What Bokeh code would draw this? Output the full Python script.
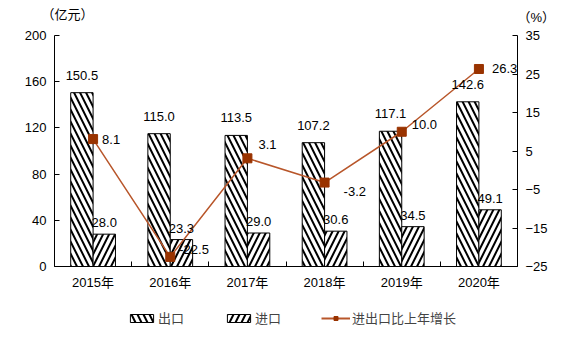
from bokeh.plotting import figure
from bokeh.layouts import column
from bokeh.models import (Range1d, LinearAxis, FixedTicker, Legend, LegendItem,
                          ColumnDataSource, Label, Plot)
from bokeh.core.properties import value
from bokeh.embed import file_html
from bokeh.resources import INLINE

years = ["2015年", "2016年", "2017年", "2018年", "2019年", "2020年"]
exports = [150.5, 115.0, 113.5, 107.2, 117.1, 142.6]
imports = [28.0, 23.3, 29.0, 30.6, 34.5, 49.1]
growth = [8.1, -22.5, 3.1, -3.2, 10.0, 26.3]
left_unit = "（亿元）"
right_unit = "（%）"

# label placement (screen px), not data
growth_dx = [9, 9, 11, 19, 10, 13]
growth_dy = [0, -7, -14, 9, -7, 0]

FONT = "Liberation Sans, Noto Sans CJK SC"
FS = "13px"
LINE_C = "#B8562A"
MARK_C = "#993300"
BAR_STYLE = dict(fill_color="white", line_color="black", line_width=1,
                 hatch_color="black", hatch_scale=12, hatch_weight=2)

xc = [i + 0.5 for i in range(len(years))]
bw = 0.29
x_exp = [x - bw / 2 for x in xc]
x_imp = [x + bw / 2 for x in xc]

src_e = ColumnDataSource(dict(x=x_exp, top=exports, lab=[f"{v:.1f}" for v in exports]))
src_i = ColumnDataSource(dict(x=x_imp, top=imports, lab=[f"{v:.1f}" for v in imports]))
src_g = ColumnDataSource(dict(x=xc, y=growth, lab=[f"{v:.1f}" for v in growth],
                              dx=growth_dx, dy=growth_dy))


def strip(h, xr=(0, 1), yr=(0, 1)):
    f = figure(width=572, height=h, output_backend="svg", toolbar_location=None,
               x_range=Range1d(*xr), y_range=Range1d(*yr), min_border=0,
               x_axis_location=None, y_axis_location=None)
    f.outline_line_color = None
    f.grid.visible = False
    return f


# ---- top strip with unit labels: its frame spans the whole strip ----
top = strip(24)
top.frame_width = 572
top.frame_height = 24
if "frame_align" in Plot.properties():
    top.frame_align = False
top.add_layout(Label(x=41, y=10, x_units="screen", y_units="screen",
                     text=left_unit, text_font=FONT, text_font_size=FS,
                     text_baseline="middle", text_color="black"))
top.add_layout(Label(x=517, y=7, x_units="screen", y_units="screen",
                     text=right_unit, text_font=FONT, text_font_size=FS,
                     text_baseline="middle", text_color="black"))

# ---- main chart ----
p = figure(width=572, height=276, output_backend="svg", toolbar_location=None,
           x_range=Range1d(0, 6), y_range=Range1d(0, 200),
           min_border_left=54, min_border_right=55, min_border_top=11,
           min_border_bottom=34)
p.outline_line_color = None
p.grid.visible = False
p.extra_y_ranges = {"r": Range1d(-25, 35)}

p.vbar(x="x", top="top", width=bw, source=src_e,
       hatch_pattern="left_diagonal_line", **BAR_STYLE)
p.vbar(x="x", top="top", width=bw, source=src_i,
       hatch_pattern="right_diagonal_line", **BAR_STYLE)
p.line(x="x", y="y", source=src_g, y_range_name="r",
       line_color=LINE_C, line_width=1.5)
p.scatter(x="x", y="y", source=src_g, y_range_name="r", marker="square",
          size=9, fill_color=MARK_C, line_color=MARK_C)

p.text(x="x", y="top", text="lab", source=src_e, text_align="center",
       text_baseline="bottom", y_offset=-13, text_font=value(FONT),
       text_font_size=FS, text_color="black")
p.text(x="x", y="top", text="lab", source=src_i, text_align="center",
       text_baseline="bottom", y_offset=-7, text_font=value(FONT),
       text_font_size=FS, text_color="black")
p.text(x="x", y="y", text="lab", source=src_g, y_range_name="r",
       text_align="left", text_baseline="middle", x_offset="dx", y_offset="dy",
       text_font=value(FONT), text_font_size=FS, text_color="black")

xa = p.xaxis[0]
xa.ticker = FixedTicker(ticks=xc, minor_ticks=list(range(0, 7)))
xa.major_label_overrides = {x: y for x, y in zip(xc, years)}
xa.major_tick_in = 0
xa.major_tick_out = 0
xa.minor_tick_in = 5
xa.minor_tick_out = 0
xa.axis_line_color = "black"
xa.minor_tick_line_color = "black"
xa.major_label_text_font = FONT
xa.major_label_text_font_size = FS
xa.major_label_text_color = "black"
xa.major_label_standoff = 8

ya = p.yaxis[0]
ya.ticker = FixedTicker(ticks=[0, 40, 80, 120, 160, 200])
ya.major_tick_in = 5
ya.major_tick_out = 0
ya.minor_tick_line_color = None
ya.axis_line_color = "black"
ya.major_label_text_font = FONT
ya.major_label_text_font_size = FS
ya.major_label_text_color = "black"
ya.major_label_standoff = 8

ra = LinearAxis(y_range_name="r", ticker=FixedTicker(ticks=[-25, -15, -5, 5, 15, 25, 35]))
ra.major_tick_in = 5
ra.major_tick_out = 0
ra.minor_tick_line_color = None
ra.axis_line_color = "black"
ra.major_label_text_font = FONT
ra.major_label_text_font_size = FS
ra.major_label_text_color = "black"
ra.major_label_standoff = 8
p.add_layout(ra, "right")

# ---- legend strip below the chart; its glyphs share the chart's data but
# the strip's ranges lie far away from it, so only the legend shows ----
q = strip(52, xr=(100, 101), yr=(1000, 1001))
l_exp = q.vbar(x="x", top="top", width=bw, source=src_e,
               hatch_pattern="left_diagonal_line", **BAR_STYLE)
l_imp = q.vbar(x="x", top="top", width=bw, source=src_i,
               hatch_pattern="right_diagonal_line", **BAR_STYLE)
l_line = q.line(x="x", y="y", source=src_g, line_color=LINE_C, line_width=2)
l_mark = q.scatter(x="x", y="y", source=src_g, marker="square", size=9,
                   fill_color=MARK_C, line_color=MARK_C)

legend = Legend(items=[
    LegendItem(label="出口", renderers=[l_exp]),
    LegendItem(label="进口", renderers=[l_imp]),
    LegendItem(label="进出口比上年增长", renderers=[l_line, l_mark]),
], orientation="horizontal", location=(73, 25))
legend.label_text_font = FONT
legend.label_text_font_size = FS
legend.glyph_width = 29
legend.glyph_height = 10
legend.label_standoff = 2
legend.spacing = 40
legend.border_line_color = None
legend.background_fill_alpha = 0
legend.margin = 0
legend.padding = 4
q.add_layout(legend, "center")

open("out.html", "w").write(file_html(column(top, p, q, spacing=0), INLINE))
